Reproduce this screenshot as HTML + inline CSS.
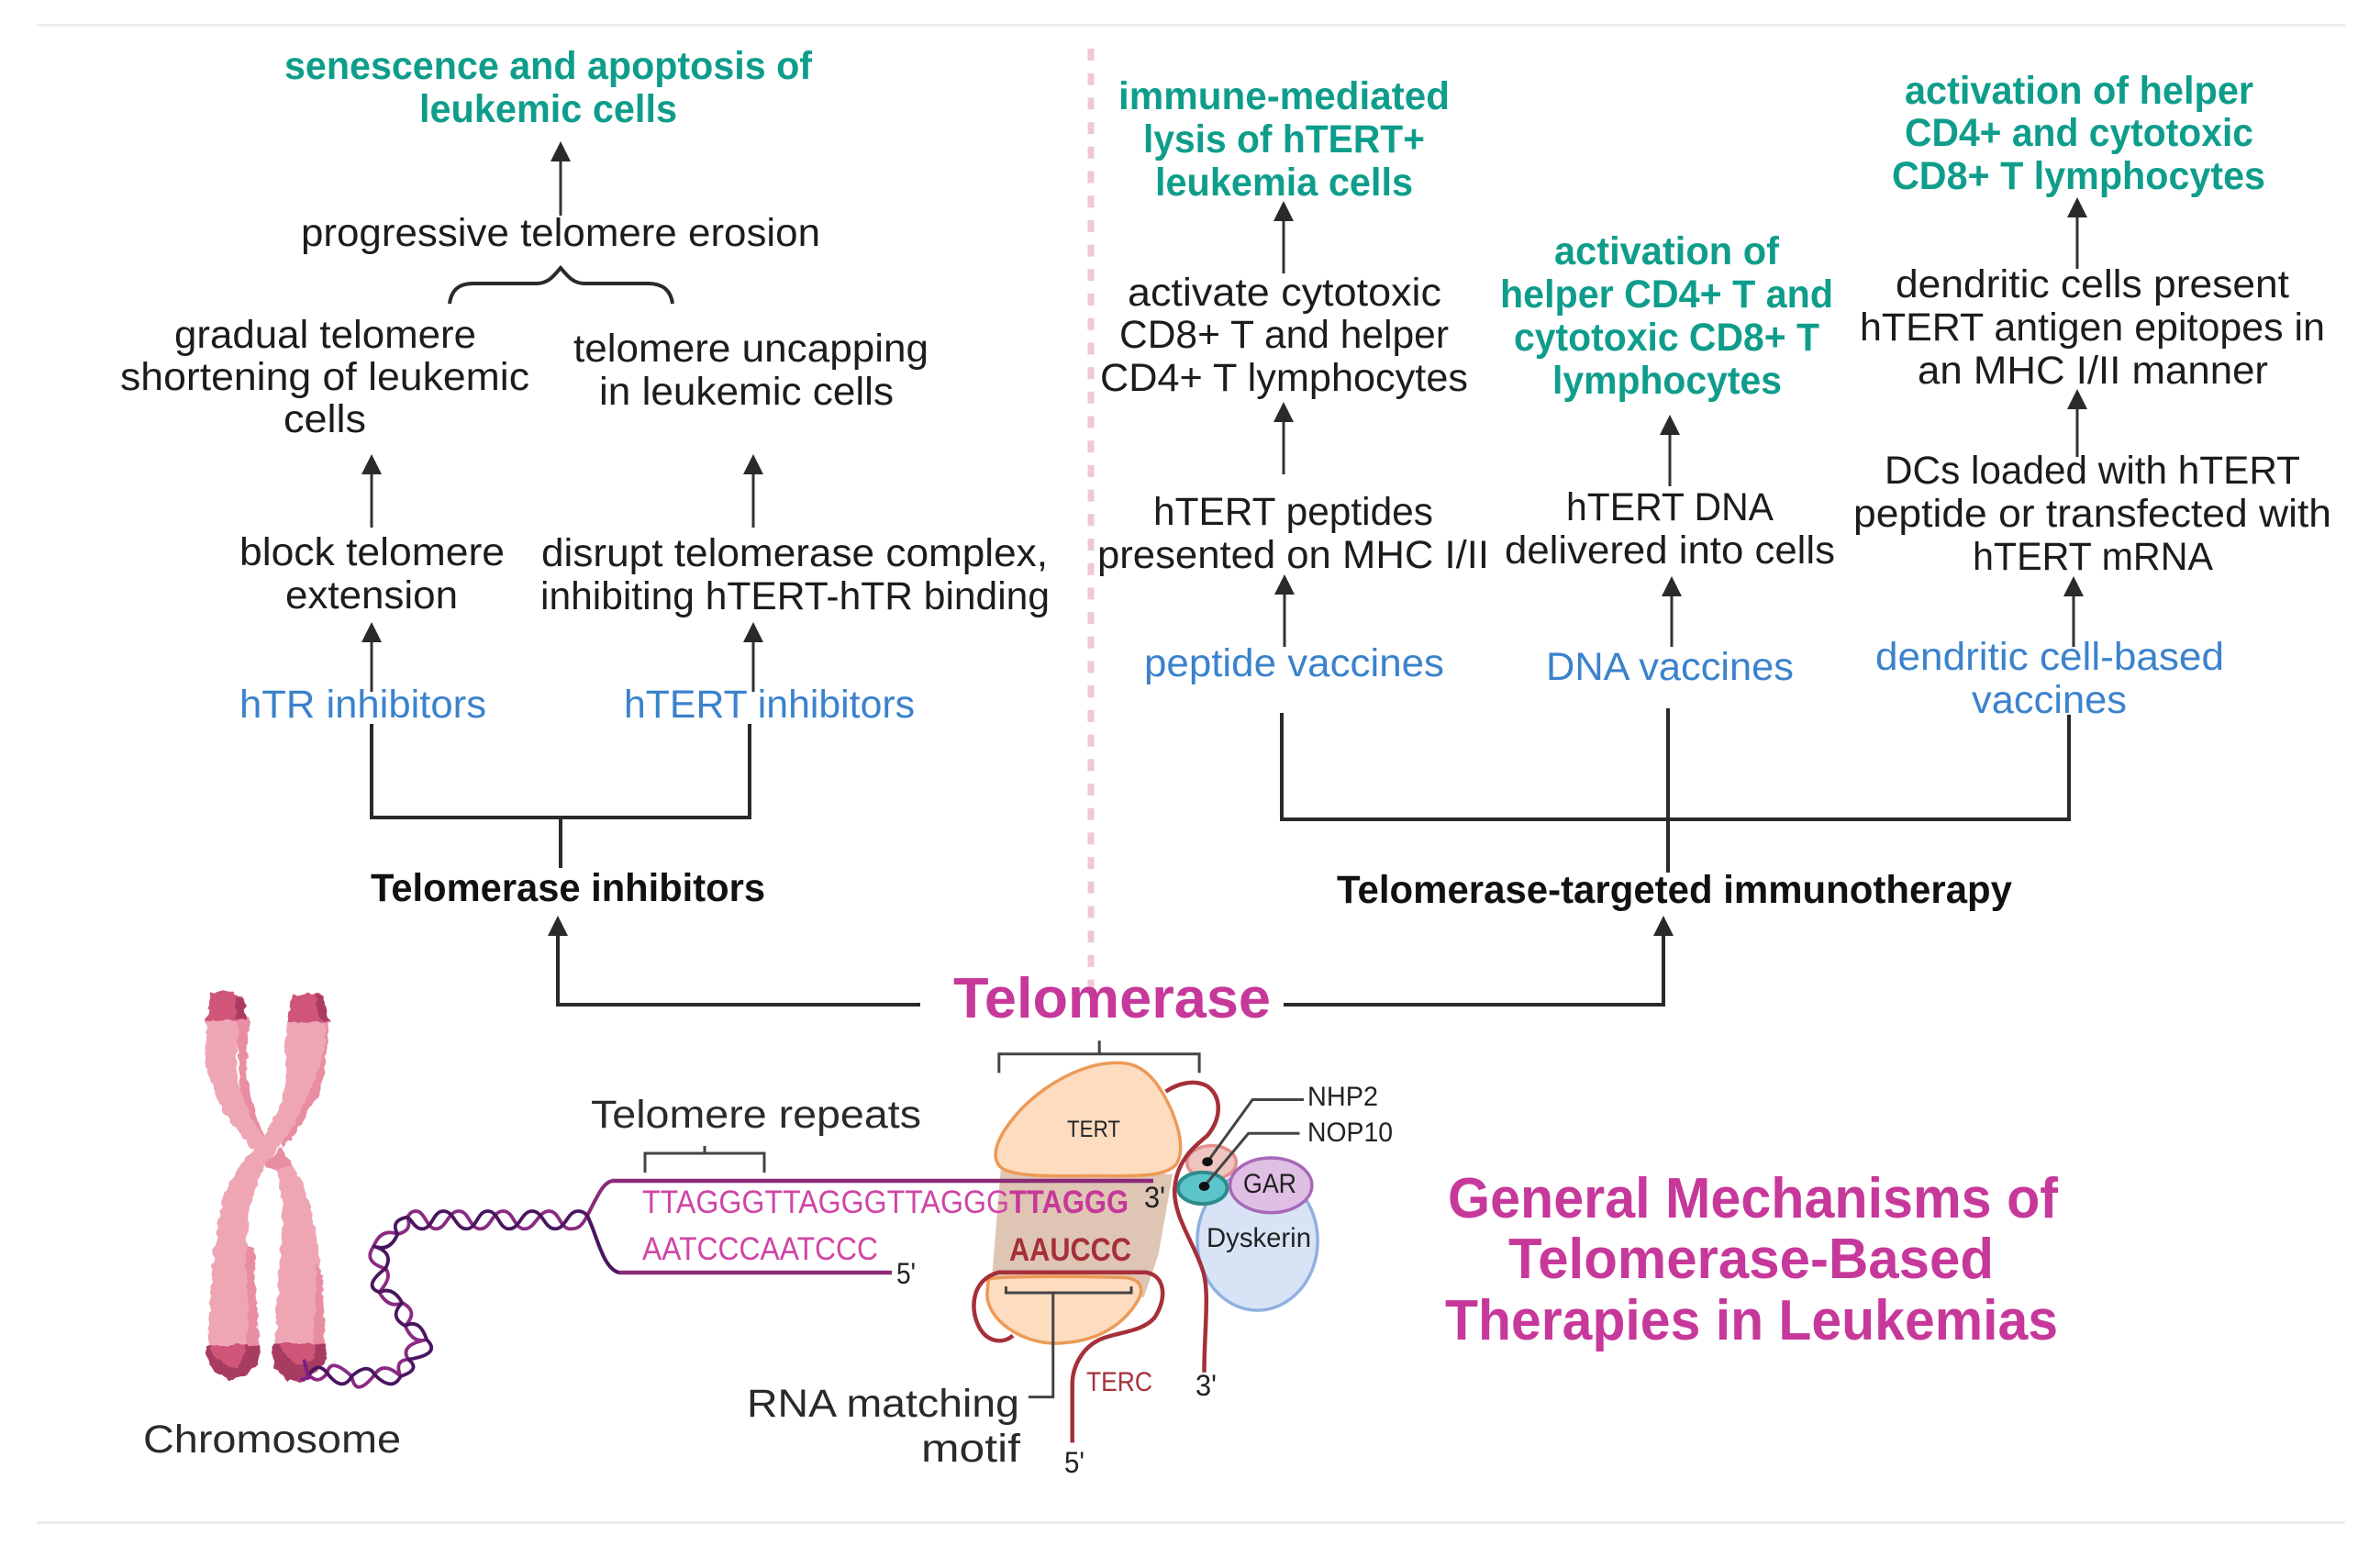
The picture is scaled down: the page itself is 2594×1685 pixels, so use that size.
<!DOCTYPE html>
<html><head><meta charset="utf-8"><title>General Mechanisms of Telomerase-Based Therapies in Leukemias</title>
<style>
html,body{margin:0;padding:0;background:#fff}
svg{display:block}
text{font-family:"Liberation Sans",sans-serif;font-size:43px;fill:#1c1c1c}
.g{fill:#0f9d8b;font-weight:bold}
.b{fill:#3b82cc}
.h{fill:#111;font-weight:bold}
.m{fill:#c6389a;font-weight:bold;font-size:62px}
.s{font-size:30px;fill:#222}
.p{fill:#cf45a5;font-size:35px}
.z *{vector-effect:non-scaling-stroke}
</style></head><body>
<svg xmlns="http://www.w3.org/2000/svg" width="2594" height="1685" viewBox="0 0 2594 1685">
<defs>
<filter id="rough" x="-5%" y="-5%" width="110%" height="110%">
<feTurbulence type="fractalNoise" baseFrequency="0.035" numOctaves="2" seed="4" result="n"/>
<feDisplacementMap in="SourceGraphic" in2="n" scale="22" xChannelSelector="R" yChannelSelector="G"/>
</filter>
</defs>
<rect width="2594" height="1685" fill="#fff"/>
<rect x="40" y="26" width="2516" height="3" fill="#efefef"/>
<rect x="40" y="1658" width="2516" height="3" fill="#ededed"/>
<line x1="1189" y1="53" x2="1189" y2="1085" stroke="#f0c6da" stroke-width="7" stroke-dasharray="13 13.7"/>

<!-- connectors -->
<path fill="none" stroke="#2a2a2a" stroke-width="4" d="M405 789V891H817V789M611 891V946M1397 777V893H2255V779M1818 772V951M608 1015V1095H1003M1399 1095H1813V1015"/>
<path fill="none" stroke="#333" stroke-width="3" d="M611 170V235M405 511V575M821 511V575M405 694V754M821 694V754M1399 235V298M1399 454V517M1400 642V705M1820 468V530M1822 644V705M2264 231V293M2264 440V498M2260 644V705"/>
<path fill="#2a2a2a" d="M611 154l-11 22h22zM405 495l-11 22h22zM821 495l-11 22h22zM405 678l-11 22h22zM821 678l-11 22h22zM1399 219l-11 22h22zM1399 438l-11 22h22zM1400 626l-11 22h22zM1820 452l-11 22h22zM1822 628l-11 22h22zM2264 215l-11 22h22zM2264 424l-11 22h22zM2260 628l-11 22h22zM608 998l-11 22h22zM1813 998l-11 22h22z"/>
<path fill="none" stroke="#2a2a2a" stroke-width="4" d="M490 331C492 316 500 309 516 309H585C598 309 604 300 611 292C618 300 624 309 637 309H706C722 309 731 316 733 331"/>

<!-- left column text -->
<text class="g" x="310" y="86" textLength="575" lengthAdjust="spacingAndGlyphs">senescence and apoptosis of</text>
<text class="g" x="457" y="133" textLength="281" lengthAdjust="spacingAndGlyphs">leukemic cells</text>
<text x="328" y="268" textLength="566" lengthAdjust="spacingAndGlyphs">progressive telomere erosion</text>
<text x="190" y="379" textLength="329" lengthAdjust="spacingAndGlyphs">gradual telomere</text>
<text x="131" y="425" textLength="446" lengthAdjust="spacingAndGlyphs">shortening of leukemic</text>
<text x="309" y="471" textLength="90" lengthAdjust="spacingAndGlyphs">cells</text>
<text x="625" y="394" textLength="387" lengthAdjust="spacingAndGlyphs">telomere uncapping</text>
<text x="653" y="441" textLength="321" lengthAdjust="spacingAndGlyphs">in leukemic cells</text>
<text x="261" y="616" textLength="289" lengthAdjust="spacingAndGlyphs">block telomere</text>
<text x="311" y="663" textLength="188" lengthAdjust="spacingAndGlyphs">extension</text>
<text x="590" y="617" textLength="552" lengthAdjust="spacingAndGlyphs">disrupt telomerase complex,</text>
<text x="589" y="664" textLength="555" lengthAdjust="spacingAndGlyphs">inhibiting hTERT-hTR binding</text>
<text class="b" x="261" y="782" textLength="269" lengthAdjust="spacingAndGlyphs">hTR inhibitors</text>
<text class="b" x="680" y="782" textLength="317" lengthAdjust="spacingAndGlyphs">hTERT inhibitors</text>
<text class="h" x="404" y="982" textLength="430" lengthAdjust="spacingAndGlyphs">Telomerase inhibitors</text>

<!-- right columns text -->
<text class="g" x="1219" y="119" textLength="361" lengthAdjust="spacingAndGlyphs">immune-mediated</text>
<text class="g" x="1246" y="166" textLength="307" lengthAdjust="spacingAndGlyphs">lysis of hTERT+</text>
<text class="g" x="1259" y="213" textLength="281" lengthAdjust="spacingAndGlyphs">leukemia cells</text>
<text x="1229" y="333" textLength="342" lengthAdjust="spacingAndGlyphs">activate cytotoxic</text>
<text x="1220" y="379" textLength="359" lengthAdjust="spacingAndGlyphs">CD8+ T and helper</text>
<text x="1199" y="426" textLength="401" lengthAdjust="spacingAndGlyphs">CD4+ T lymphocytes</text>
<text x="1257" y="572" textLength="305" lengthAdjust="spacingAndGlyphs">hTERT peptides</text>
<text x="1196" y="619" textLength="427" lengthAdjust="spacingAndGlyphs">presented on MHC I/II</text>
<text class="b" x="1247" y="737" textLength="327" lengthAdjust="spacingAndGlyphs">peptide vaccines</text>

<text class="g" x="1694" y="288" textLength="245" lengthAdjust="spacingAndGlyphs">activation of</text>
<text class="g" x="1635" y="335" textLength="363" lengthAdjust="spacingAndGlyphs">helper CD4+ T and</text>
<text class="g" x="1650" y="382" textLength="333" lengthAdjust="spacingAndGlyphs">cytotoxic CD8+ T</text>
<text class="g" x="1692" y="429" textLength="250" lengthAdjust="spacingAndGlyphs">lymphocytes</text>
<text x="1707" y="567" textLength="226" lengthAdjust="spacingAndGlyphs">hTERT DNA</text>
<text x="1640" y="614" textLength="360" lengthAdjust="spacingAndGlyphs">delivered into cells</text>
<text class="b" x="1685" y="741" textLength="270" lengthAdjust="spacingAndGlyphs">DNA vaccines</text>

<text class="g" x="2076" y="113" textLength="380" lengthAdjust="spacingAndGlyphs">activation of helper</text>
<text class="g" x="2076" y="159" textLength="380" lengthAdjust="spacingAndGlyphs">CD4+ and cytotoxic</text>
<text class="g" x="2062" y="206" textLength="407" lengthAdjust="spacingAndGlyphs">CD8+ T lymphocytes</text>
<text x="2066" y="324" textLength="429" lengthAdjust="spacingAndGlyphs">dendritic cells present</text>
<text x="2027" y="371" textLength="507" lengthAdjust="spacingAndGlyphs">hTERT antigen epitopes in</text>
<text x="2090" y="418" textLength="382" lengthAdjust="spacingAndGlyphs">an MHC I/II manner</text>
<text x="2054" y="527" textLength="453" lengthAdjust="spacingAndGlyphs">DCs loaded with hTERT</text>
<text x="2020" y="574" textLength="521" lengthAdjust="spacingAndGlyphs">peptide or transfected with</text>
<text x="2150" y="621" textLength="262" lengthAdjust="spacingAndGlyphs">hTERT mRNA</text>
<text class="b" x="2044" y="730" textLength="380" lengthAdjust="spacingAndGlyphs">dendritic cell-based</text>
<text class="b" x="2149" y="777" textLength="169" lengthAdjust="spacingAndGlyphs">vaccines</text>
<text class="h" x="1457" y="984" textLength="736" lengthAdjust="spacingAndGlyphs">Telomerase-targeted immunotherapy</text>

<text class="m" x="1039" y="1109" textLength="346" lengthAdjust="spacingAndGlyphs">Telomerase</text>
<text class="m" x="1578" y="1327" textLength="665" lengthAdjust="spacingAndGlyphs">General Mechanisms of</text>
<text class="m" x="1644" y="1393" textLength="529" lengthAdjust="spacingAndGlyphs">Telomerase-Based</text>
<text class="m" x="1575" y="1460" textLength="668" lengthAdjust="spacingAndGlyphs">Therapies in Leukemias</text>

<!-- chromosome -->
<g transform="translate(200,1070) scale(.33333)" filter="url(#rough)">
  <path fill="#e98da2" d="M170 115H215L205 280C210 360 240 430 265 510L240 540L190 400Z"/>
  <path fill="#eea6b5" d="M75 115H180L172 280C185 370 220 450 250 490L265 520L225 550C190 500 130 430 115 390C90 330 75 300 75 260Z"/>
  <path fill="#e98da2" d="M265 600L315 540L355 600L310 620Z"/>
  <path fill="#eea6b5" d="M300 610L355 600C400 670 430 770 440 870C450 950 460 1050 460 1200H295C310 1100 305 1000 315 900C325 800 330 690 300 610Z"/>
  <path fill="#e98da2" d="M420 1200C430 1100 435 1000 435 920L455 960L462 1200Z"/>
  <path fill="#e98da2" d="M440 115H472C475 200 465 320 440 370L360 505L320 540L340 430L420 340Z"/>
  <path fill="#eea6b5" d="M340 115H462L462 200C455 280 420 340 390 400C365 470 340 510 320 525L265 605L225 555C280 480 320 420 330 350C340 280 330 200 340 115Z"/>
  <path fill="#eea6b5" d="M225 555C180 600 130 680 120 760C100 860 85 1000 80 1200H215C205 1100 215 1000 212 900C205 800 210 720 265 605Z"/>
  <path fill="#e98da2" d="M205 860L230 870C235 1000 240 1100 250 1200H205C215 1100 205 1000 205 860Z"/>
  <path fill="#cf5678" d="M75 130L90 35L165 30L200 60L205 122Z"/>
  <path fill="#aa3a62" d="M170 50L195 55L205 122L170 120Z"/>
  <path fill="#cf5678" d="M338 130L355 40L450 38L478 135Z"/>
  <path fill="#aa3a62" d="M430 45L455 45L475 130L445 125Z"/>
  <path fill="#cf5678" d="M80 1188H250L245 1250L200 1290L150 1305L95 1270L72 1210Z"/>
  <path fill="#a83a62" d="M72 1190L85 1188C100 1240 150 1265 180 1260L205 1190H250L245 1250L200 1290L150 1305L95 1270L72 1220Z"/>
  <path fill="#cf5678" d="M295 1182H465L470 1230L440 1270L390 1305H340L300 1260L288 1210Z"/>
  <path fill="#a83a62" d="M295 1182L318 1182C330 1230 370 1260 395 1250L430 1230L430 1185H465L472 1230L440 1270L390 1305H340L300 1260L288 1210Z"/>
</g>

<!-- helix -->
<g class="z" transform="translate(370,1290) scale(.33333)" fill="none" stroke-width="3.800" stroke-linejoin="round" stroke-linecap="round">
  <path stroke="#8a2a82" d="M810 105C790 145 775 148 755 148C720 148 720 90 685 90C650 90 640 148 605 148C570 148 570 90 535 90C500 90 495 148 460 148C425 148 425 90 390 90C355 90 350 148 315 148C285 148 280 90 250 90C235 90 228 100 222 110Q240 155 190 165Q135 145 112 205Q75 255 150 278Q175 305 130 355Q160 410 205 390Q260 418 215 465Q240 525 285 510Q195 528 225 575Q178 578 200 630Q143 579 115 625Q53 703 40 630Q-30 565 -40 620Q-70 660 -100 625"/>
  <path stroke="#4a1560" d="M810 105C800 92 790 90 780 90C745 90 740 148 705 148C670 148 665 90 630 90C595 90 590 148 555 148C520 148 520 90 485 90C450 90 450 148 415 148C380 148 375 90 340 90C305 90 305 148 270 148C245 148 235 115 222 110Q165 120 190 165Q165 225 112 205Q180 225 150 278Q75 335 130 355Q175 335 205 390Q160 435 215 465Q262 440 285 510Q335 558 225 575Q268 608 200 630Q173 683 115 625Q93 583 40 630Q10 685 -40 620Q-70 580 -100 625"/>
  <path stroke="#7a1f86" d="M-115 580L-100 635L-122 640"/>
  <path stroke="#8a2a78" stroke-width="4" d="M810 105C840 50 860 -5 893 -9"/>
  <path stroke="#4a1560" stroke-width="4" d="M810 105C840 160 860 280 915 291"/>
</g>
<path fill="none" stroke="#444" stroke-width="3" d="M703 1278V1257H833V1278M768 1257V1249"/>

<!-- telomerase complex -->
<g class="z" transform="translate(950,1050) scale(.4464,.3827)">
  <ellipse cx="942" cy="790" rx="147" ry="198" fill="#d8e4f6" stroke="#8fb0e0" stroke-width="3.500"/>
  <ellipse cx="830" cy="567" rx="60" ry="48" fill="#f0c4c0" stroke="#e48f8f" stroke-width="3.500"/>
  <path d="M315 590L735 600L700 830L665 950H290Z" fill="#dfc5b4"/>
  <path d="M600 283C500 283 390 370 340 450C300 510 290 560 320 585C360 610 450 605 560 605C640 605 720 610 745 570C770 520 740 420 700 350C670 300 640 283 600 283Z" fill="#fddcc0" stroke="#ec9a56" stroke-width="3.500"/>
  <path d="M285 900C300 890 500 890 620 895C660 900 665 930 650 960C620 1020 560 1080 450 1082C360 1082 280 1010 282 940Z" fill="#fddcc0" stroke="#ec9a56" stroke-width="3.500"/>
  <ellipse cx="975" cy="632" rx="100" ry="78" fill="#e0bfe4" stroke="#a868b8" stroke-width="3.500"/>
  <ellipse cx="808" cy="640" rx="60" ry="45" fill="#5cc5cc" stroke="#2f8a8a" stroke-width="4"/>
  <g fill="none" stroke="#a5303a" stroke-width="4.500">
    <path d="M718 365C750 340 790 330 820 350C855 380 855 440 820 490C790 520 745 560 740 640C735 720 790 800 810 880C825 940 812 1050 812 1165"/>
    <path d="M345 1060C320 1085 280 1080 260 1030C240 980 245 900 310 880H670C720 890 720 960 690 1010C660 1050 600 1050 560 1070C520 1090 490 1140 490 1200V1365"/>
  </g>
  <g fill="none" stroke="#444" stroke-width="3">
    <path d="M311 312V258H800V312M556 258V220"/>
    <path d="M328 920V938H634V920M443 938V1235H383"/>
    <path d="M820 565L930 388H1055M812 635L920 484H1045"/>
  </g>
  <ellipse cx="820" cy="565" rx="13" ry="13" fill="#111"/>
  <ellipse cx="812" cy="635" rx="13" ry="13" fill="#111"/>
</g>
<path d="M667 1287H1257" fill="none" stroke="#8a2a78" stroke-width="4.500"/>
<path d="M675 1387H972" fill="none" stroke="#8a2a78" stroke-width="4.500"/>

<text class="s" x="1425" y="1205" textLength="77" lengthAdjust="spacingAndGlyphs">NHP2</text>
<text class="s" x="1425" y="1244" textLength="93" lengthAdjust="spacingAndGlyphs">NOP10</text>
<text class="s" x="1163" y="1239" style="font-size:25px" textLength="58" lengthAdjust="spacingAndGlyphs">TERT</text>
<text class="s" x="1355" y="1300" textLength="58" lengthAdjust="spacingAndGlyphs">GAR</text>
<text class="s" x="1315" y="1359" textLength="114" lengthAdjust="spacingAndGlyphs">Dyskerin</text>
<text class="s" x="1247" y="1316" style="font-size:32px" textLength="23" lengthAdjust="spacingAndGlyphs">3'</text>
<text class="s" x="977" y="1399" style="font-size:32px" textLength="21" lengthAdjust="spacingAndGlyphs">5'</text>
<text class="s" x="1303" y="1521" style="font-size:32px" textLength="23" lengthAdjust="spacingAndGlyphs">3'</text>
<text class="s" x="1160" y="1605" style="font-size:32px" textLength="22" lengthAdjust="spacingAndGlyphs">5'</text>
<text class="s" x="1184" y="1516" style="fill:#a5303a" textLength="72" lengthAdjust="spacingAndGlyphs">TERC</text>
<text class="p" x="700" y="1322" textLength="400" lengthAdjust="spacingAndGlyphs">TTAGGGTTAGGGTTAGGG</text>
<text class="p" x="1100" y="1322" style="font-weight:bold;fill:#c6389a" textLength="130" lengthAdjust="spacingAndGlyphs">TTAGGG</text>
<text class="p" x="700" y="1373" textLength="257" lengthAdjust="spacingAndGlyphs">AATCCCAATCCC</text>
<text class="p" x="1100" y="1374" style="font-weight:bold;fill:#a5303a" textLength="133" lengthAdjust="spacingAndGlyphs">AAUCCC</text>
<text x="814" y="1544" style="fill:#2a2a2a" textLength="297" lengthAdjust="spacingAndGlyphs">RNA matching</text>
<text x="1004" y="1593" style="fill:#2a2a2a" textLength="108" lengthAdjust="spacingAndGlyphs">motif</text>
<text x="644" y="1229" style="fill:#2a2a2a" textLength="360" lengthAdjust="spacingAndGlyphs">Telomere repeats</text>
<text x="156" y="1583" style="fill:#2a2a2a" textLength="281" lengthAdjust="spacingAndGlyphs">Chromosome</text>
</svg>
</body></html>
